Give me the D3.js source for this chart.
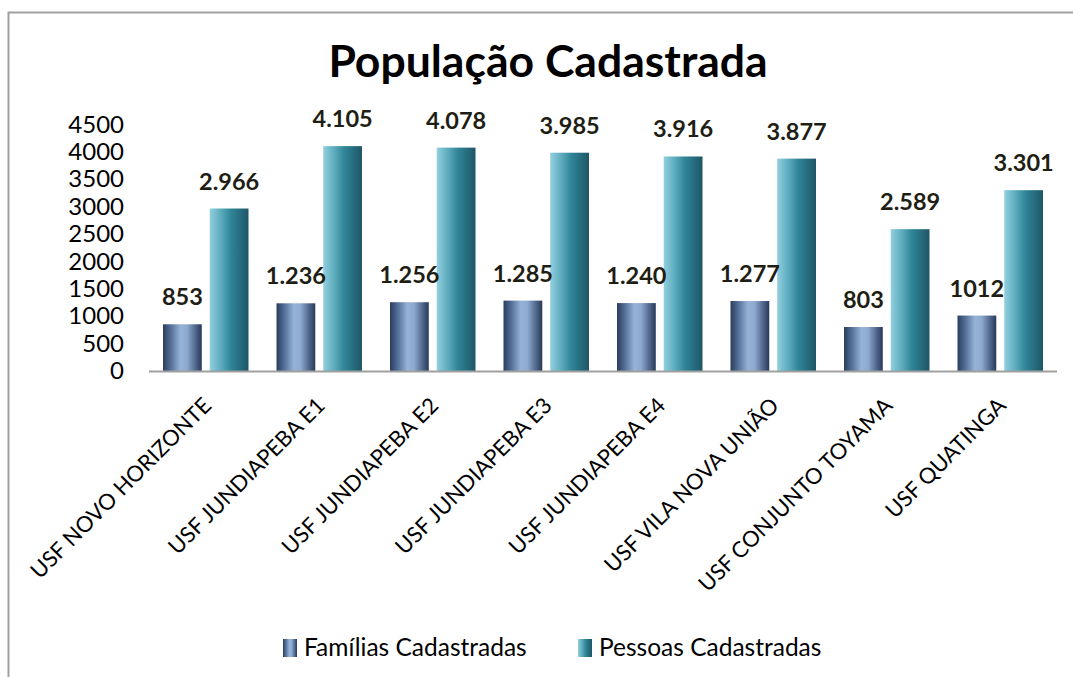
<!DOCTYPE html>
<html>
<head>
<meta charset="utf-8">
<script src="https://cdn.jsdelivr.net/npm/d3@7"></script>
<style>
  body { margin: 0; background: #fff; }
  text { font-family: Lato, "Open Sans", sans-serif; fill: #000; }
</style>
</head>
<body>
<svg id="chart" width="1073" height="677"></svg>
<script>
// data
var units = ["USF NOVO HORIZONTE", "USF JUNDIAPEBA E1", "USF JUNDIAPEBA E2", "USF JUNDIAPEBA E3",
             "USF JUNDIAPEBA E4", "USF VILA NOVA UNIÃO", "USF CONJUNTO TOYAMA", "USF QUATINGA"];
var familias = [853, 1236, 1256, 1285, 1240, 1277, 803, 1012];
var pessoas = [2966, 4105, 4078, 3985, 3916, 3877, 2589, 3301];
var familiasLabels = ["853", "1.236", "1.256", "1.285", "1.240", "1.277", "803", "1012"];
var pessoasLabels = ["2.966", "4.105", "4.078", "3.985", "3.916", "3.877", "2.589", "3.301"];
var yTicks = [0, 500, 1000, 1500, 2000, 2500, 3000, 3500, 4000, 4500];
var seriesNames = ["Famílias Cadastradas", "Pessoas Cadastradas"];

var svg = d3.select("#chart");
var plotLeft = 149, plotRight = 1057, plotTop = 124.5, plotBottom = 371;

// gradients (cylinder-ish look)
var defs = svg.append("defs");
function grad(id, stops) {
    var g = defs.append("linearGradient").attr("id", id)
        .attr("x1", "0%").attr("x2", "100%").attr("y1", "0%").attr("y2", "0%");
    stops.forEach(function (s) {
        g.append("stop").attr("offset", s[0]).attr("stop-color", s[1]);
    });
}
grad("gFam", [["0%", "#2a3d5c"], ["18%", "#4f6a92"], ["45%", "#95b3d7"], ["62%", "#8ea9cf"], ["85%", "#4d6488"], ["100%", "#28395a"]]);
grad("gPes", [["0%", "#93cfdf"], ["30%", "#5aaabb"], ["55%", "#2f8497"], ["80%", "#256b7d"], ["100%", "#1f5665"]]);

// outer frame
svg.append("rect")
    .attr("x", 8.5).attr("y", 12.5).attr("width", 1200).attr("height", 800)
    .attr("fill", "none").attr("stroke", "#a0a0a0").attr("stroke-width", 2);

// title
svg.append("text")
    .attr("x", 548).attr("y", 77)
    .attr("text-anchor", "middle")
    .style("font-size", "44.5px").style("font-weight", "bold")
    .text("População Cadastrada");

var x0 = d3.scaleBand().domain(units).range([plotLeft, plotRight]).paddingInner(0).paddingOuter(0);
var x1 = d3.scaleBand().domain(["f", "p"]).range([14, x0.bandwidth() - 14]).paddingInner(0.17);
var y = d3.scaleLinear().domain([0, 4500]).range([plotBottom, plotTop]);

// y axis labels only
var yAxis = d3.axisLeft(y).tickValues(yTicks).tickSize(0).tickPadding(0).tickFormat(d3.format("d"));
var ya = svg.append("g").attr("transform", "translate(124,0)").call(yAxis);
ya.select(".domain").remove();
ya.selectAll("text").style("font-size", "24px").style("font-family", "Lato, sans-serif").attr("fill", "#000");

var groups = svg.selectAll("g.unit")
    .data(units)
    .enter().append("g")
    .attr("class", "unit")
    .attr("transform", function (d) { return "translate(" + x0(d) + ",0)"; });

groups.append("rect")
    .attr("x", x1("f")).attr("width", x1.bandwidth())
    .attr("y", function (d, i) { return y(familias[i]); })
    .attr("height", function (d, i) { return plotBottom - y(familias[i]); })
    .attr("fill", "url(#gFam)");

groups.append("rect")
    .attr("x", x1("p")).attr("width", x1.bandwidth())
    .attr("y", function (d, i) { return y(pessoas[i]); })
    .attr("height", function (d, i) { return plotBottom - y(pessoas[i]); })
    .attr("fill", "url(#gPes)");

// value labels
groups.append("text")
    .attr("x", x1("f") + x1.bandwidth() / 2)
    .attr("y", function (d, i) { return y(familias[i]) - 19; })
    .attr("text-anchor", "middle")
    .style("font-size", "23.5px").style("font-weight", "bold").style("fill", "#1e1e14")
    .text(function (d, i) { return familiasLabels[i]; });

groups.append("text")
    .attr("x", x1("p") + x1.bandwidth() / 2)
    .attr("y", function (d, i) { return y(pessoas[i]) - 19; })
    .attr("text-anchor", "middle")
    .style("font-size", "23.5px").style("font-weight", "bold").style("fill", "#1e1e14")
    .text(function (d, i) { return pessoasLabels[i]; });

// baseline
svg.append("line")
    .attr("x1", plotLeft).attr("x2", plotRight).attr("y1", plotBottom + 0.5).attr("y2", plotBottom + 0.5)
    .attr("stroke", "#a0a0a0").attr("stroke-width", 2);

// category labels, rotated
groups.append("text")
    .attr("transform", "translate(" + (x0.bandwidth() / 2 + 7) + "," + (plotBottom + 36) + ") rotate(-45)")
    .attr("text-anchor", "end")
    .style("font-size", "22px")
    .text(function (d) { return d; });

// legend
var legend = svg.append("g").attr("transform", "translate(0,648)");
var legX = [283, 578];
var legFill = ["url(#gFam)", "url(#gPes)"];
seriesNames.forEach(function (name, i) {
    legend.append("rect")
        .attr("x", legX[i]).attr("y", -9).attr("width", 14).attr("height", 18)
        .attr("fill", legFill[i]);
    legend.append("text")
        .attr("x", legX[i] + 21).attr("y", 8)
        .style("font-size", "24.5px")
        .text(name);
});
</script>
</body>
</html>
